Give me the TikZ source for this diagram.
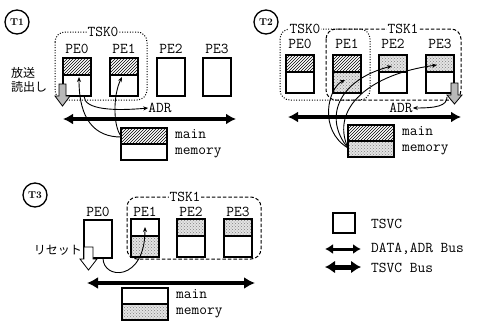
\documentclass[tikz,border=0pt]{standalone}
\usepackage{fontspec}
\newfontfamily\jp{Noto Sans CJK JP}
\usetikzlibrary{arrows.meta,patterns}
\tikzset{
  hatch/.style={pattern=north east lines},
  dots/.style={fill=gray!22,postaction={pattern=crosshatch dots,pattern color=gray}},
  blank/.style={},
  boxline/.style={line width=1.2pt},
  pebox/.style={draw,line width=1.3pt,minimum width=28,minimum height=38,inner sep=0pt,outer sep=0pt},
  membox/.style={draw,line width=1.1pt,minimum width=46,minimum height=32,inner sep=0pt,outer sep=0pt},
  lbl/.style={font=\ttfamily\fontsize{15}{15}\selectfont,inner sep=0pt},
  memlbl/.style={lbl,text height=7pt,text depth=2.5pt},
  tsk/.style={font=\ttfamily\fontsize{15}{15}\selectfont,inner sep=1pt,fill=white},
  tcirc/.style={circle,draw,line width=1.3pt,minimum size=24,inner sep=0pt,font=\rmfamily\bfseries\fontsize{10}{10}\selectfont},
  grp0/.style={line width=1pt,dash pattern=on 1pt off 1.6pt,rounded corners=10},
  grp1/.style={line width=1pt,dash pattern=on 3.5pt off 2pt,rounded corners=10},
  curv/.style={line width=0.9pt,-{Stealth[length=5pt,width=4pt]}},
  dbus/.style={line width=3.8pt,{Latex[length=10pt,width=11pt]}-{Latex[length=10pt,width=11pt]}},
  tbus/.style={line width=4.5pt,{Latex[length=11pt,width=12pt]}-{Latex[length=11pt,width=12pt]}},
  jptext/.style={font=\jp\fontsize{12}{14}\selectfont,inner sep=0pt},
  blkarrow/.style={line width=0.8pt},
}
% name, x, ytop, topstyle, botstyle, label, label y
\newcommand\PEsplit[7]{%
  \path[#4] ({#2-14},{#3}) rectangle ({#2+14},{#3+17});
  \path[#5] ({#2-14},{#3+17}) rectangle ({#2+14},{#3+38});
  \draw[boxline] ({#2-14},{#3+17}) -- ({#2+14},{#3+17});
  \node[pebox] (#1) at ({#2},{#3+19}) {};
  \node[lbl] (#1l) at ({#2},{#7}) {#6};
}
% name, x, ytop, label, label y
\newcommand\PEplain[5]{%
  \node[pebox] (#1) at ({#2},{#3+19}) {};
  \node[lbl] (#1l) at ({#2},{#5}) {#4};
}
% name, xleft, ytop, topstyle, botstyle
\newcommand\MEMbox[5]{%
  \path[#4] ({#2},{#3}) rectangle ({#2+46},{#3+16});
  \path[#5] ({#2},{#3+16}) rectangle ({#2+46},{#3+32});
  \draw[line width=1.1pt] ({#2},{#3+16}) -- ({#2+46},{#3+16});
  \node[membox] (#1) at ({#2+23},{#3+16}) {};
  \node[memlbl,anchor=west] (#1a) at ({#2+54},{#3+8}) {main};
  \node[memlbl,anchor=west] (#1b) at ({#2+54},{#3+24}) {memory};
}
\begin{document}
\begin{tikzpicture}[x=1pt,y=-1pt]
\useasboundingbox (0,0) rectangle (478,324);

% ================= T1 =================
\node[tcirc] (t1) at (17,22) {T1};
\draw[grp0] (55,32) rectangle (147,100);
\node[tsk] (t1tsk0) at (103,32) {TSK0};
\PEsplit{t1p0}{77}{58}{hatch}{blank}{PE0}{49}
\PEsplit{t1p1}{124}{58}{hatch}{blank}{PE1}{49}
\PEplain{t1p2}{171}{58}{PE2}{49}
\PEplain{t1p3}{217}{58}{PE3}{49}
\node[jptext,anchor=north west,align=left] (t1jp) at (11,67) {放送\\読出し};
\draw[blkarrow,fill=gray!55] (59,84) -- (66,84) -- (66,96) -- (70,96) -- (62.5,106) -- (55,96) -- (59,96) -- cycle;
\node[lbl] (t1adr) at (160,108) {ADR};
\coordinate (t1b1) at (63,119);
\coordinate (t1b2) at (236,119);
\draw[dbus] (t1b1) -- (t1b2);
\MEMbox{t1mem}{121}{128}{hatch}{blank}
\draw[curv] ([yshift=7]t1mem.west) .. controls (95,137) and (79,120) .. ([xshift=2]t1p0.center);
\draw[curv] ([yshift=8]t1mem.west) .. controls (113,126) and (113,95) .. ([xshift=-2]t1p1.center);
\draw[curv] ([xshift=7]t1p0.south) .. controls (84,110) and (115,111) .. (t1adr.west);

% ================= T2 =================
\node[tcirc] (t2) at (266,22) {T2};
\draw[grp0] (280,29) rectangle (370,100);
\draw[grp1] (326,29) rectangle (461,100);
\node[tsk] (t2tsk0) at (305,29) {TSK0};
\node[tsk] (t2tsk1) at (403,29) {TSK1};
\PEsplit{t2p0}{300}{55}{hatch}{blank}{PE0}{44}
\PEsplit{t2p1}{347}{55}{hatch}{dots}{PE1}{44}
\PEsplit{t2p2}{393}{55}{dots}{blank}{PE2}{44}
\PEsplit{t2p3}{440}{55}{dots}{blank}{PE3}{44}
\draw[blkarrow,fill=gray!55] (451,83) -- (458,83) -- (458,95) -- (462,95) -- (454.5,104) -- (447,95) -- (451,95) -- cycle;
\coordinate (t2g) at (447,97);
\node[lbl] (t2adr) at (401,108) {ADR};
\draw[curv] (t2g) .. controls (447,106) and (436,108) .. (t2adr.east);
\coordinate (t2b1) at (288,117);
\coordinate (t2b2) at (461,117);
\draw[dbus] (t2b1) -- (t2b2);
\MEMbox{t2mem}{348}{125}{hatch}{dots}
\draw[curv] ([yshift=-7]t2mem.west) .. controls (318,130) and (328,88) .. ([xshift=-2,yshift=-6]t2p1.center);
\draw[curv] ([yshift=-7]t2mem.west) .. controls (323,118) and (338,80) .. ([xshift=-1,yshift=8]t2p2.center);
\draw[curv] ([yshift=-7]t2mem.west) .. controls (330,108) and (370,74) .. ([xshift=-3,yshift=9]t2p3.center);

% ================= T3 =================
\node[tcirc] (t3) at (35,195) {T3};
\draw[grp1] (127,197) rectangle (261,259);
\node[tsk] (t3tsk1) at (185,197) {TSK1};
\PEplain{t3p0}{98}{220}{PE0}{212}
\PEsplit{t3p1}{145}{219}{blank}{dots}{PE1}{212}
\PEsplit{t3p2}{191}{219}{dots}{blank}{PE2}{212}
\PEsplit{t3p3}{238}{219}{dots}{blank}{PE3}{212}
\node[jptext,anchor=east] (t3jp) at (82,250) {リセット};
\draw[blkarrow,fill=white] (84,247) -- (93,247) -- (93,259) -- (97,259) -- (88.5,270) -- (80,259) -- (84,259) -- cycle;
\draw[curv] ([xshift=5]t3p0.south) .. controls (103,280) and (145,282) .. ([yshift=11]t3p1.center);
\coordinate (t3b1) at (87,283);
\coordinate (t3b2) at (255,283);
\draw[tbus] (t3b1) -- (t3b2);
\MEMbox{t3mem}{122}{288}{blank}{dots}

% ================= Legend =================
\node[pebox,minimum width=22,minimum height=20] (lgbox) at (344,223) {};
\node[lbl,anchor=west] (lgt1) at (371,224) {TSVC};
\coordinate (lga1) at (325,249);
\coordinate (lga2) at (361,249);
\draw[line width=3pt,{Latex[length=8pt,width=10pt]}-{Latex[length=8pt,width=10pt]}] (lga1) -- (lga2);
\node[lbl,anchor=west] (lgt2) at (371,249) {DATA,ADR Bus};
\coordinate (lgb1) at (325,267);
\coordinate (lgb2) at (361,267);
\draw[line width=5pt,{Latex[length=10pt,width=13pt]}-{Latex[length=10pt,width=13pt]}] (lgb1) -- (lgb2);
\node[lbl,anchor=west] (lgt3) at (371,268) {TSVC Bus};
\end{tikzpicture}
\end{document}
